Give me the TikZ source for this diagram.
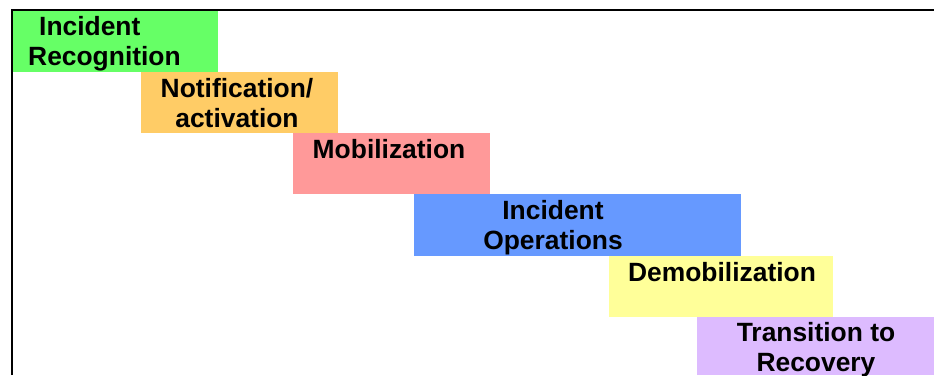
\documentclass[tikz,border=0pt]{standalone}
\usepackage{fontspec}
\newfontfamily\phasefont{Liberation Sans}
\definecolor{recgreen}{RGB}{102,255,102}
\definecolor{notorange}{RGB}{255,204,102}
\definecolor{mobpink}{RGB}{255,153,153}
\definecolor{opsblue}{RGB}{102,153,255}
\definecolor{demobyellow}{RGB}{255,255,153}
\definecolor{transpurple}{RGB}{221,187,255}
\begin{document}
\begin{tikzpicture}[x=1pt,y=-1pt,
		phase/.style={anchor=north west,inner sep=0pt,outer sep=0pt},
		caption/.style={anchor=base,inner sep=0pt,align=center,font=\phasefont\bfseries\fontsize{26.4}{30}\selectfont}]
	\useasboundingbox (0,0) rectangle (934,375);
	\draw[line width=2pt] (12,375) -- (12,10) -- (934,10);
	\node[phase,fill=recgreen,minimum width=205pt,minimum height=61pt] (rec) at (13,11) {};
	\node[phase,fill=notorange,minimum width=197pt,minimum height=61pt] (notif) at (141,72) {};
	\node[phase,fill=mobpink,minimum width=197pt,minimum height=61pt] (mob) at (293,133) {};
	\node[phase,fill=opsblue,minimum width=327pt,minimum height=62pt] (ops) at (414,194) {};
	\node[phase,fill=demobyellow,minimum width=224pt,minimum height=61pt] (demob) at (609,256) {};
	\node[phase,fill=transpurple,minimum width=237pt,minimum height=58pt] (trans) at (697,317) {};
	\node[caption,anchor=base west,align=left] (rectext) at (28,65) {\hspace*{11pt}Incident\\Recognition};
	\node[caption] (notiftext) at (237,127) {Notification/\\activation};
	\node[caption] (mobtext) at (389,158) {Mobilization};
	\node[caption] (opstext) at (553,249) {Incident\\Operations};
	\node[caption] (demobtext) at (722,281) {Demobilization};
	\node[caption] (transtext) at (816,371) {Transition to\\Recovery};
\end{tikzpicture}
\end{document}
